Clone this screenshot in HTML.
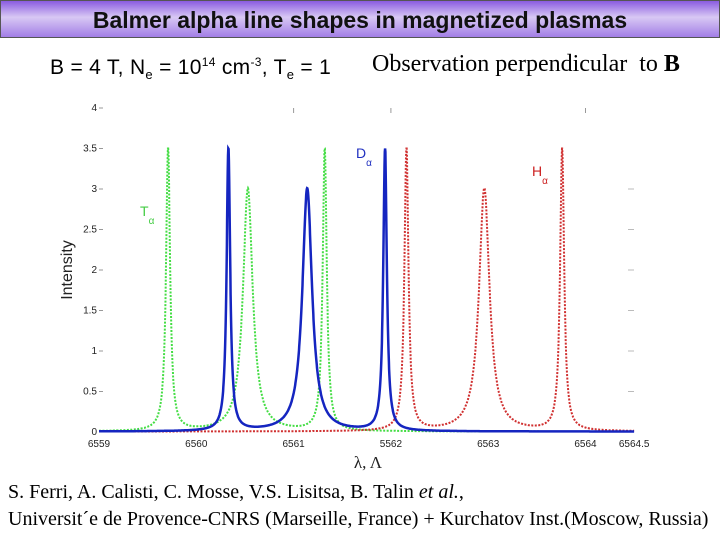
<!DOCTYPE html>
<html><head><meta charset="utf-8"><style>
body{margin:0;width:720px;height:540px;background:#fff;overflow:hidden;position:relative;font-family:"Liberation Sans",sans-serif}
#title{position:absolute;left:0;top:0;width:718px;height:36px;border:1px solid #555;background:linear-gradient(#8a5ce0,#d8c8f4 45%,#a27ee6);text-align:center;font-weight:bold;font-size:23px;line-height:38px;color:#111}
.t{position:absolute;white-space:nowrap}
</style></head><body>
<div id="title">Balmer alpha line shapes in magnetized plasmas</div>
<div class="t" style="left:50px;top:55px;font-size:21px;letter-spacing:0.3px">B = 4 T, N<sub style="font-size:13px">e</sub> = 10<sup style="font-size:12px">14</sup> cm<sup style="font-size:12px">-3</sup>, T<sub style="font-size:13px">e</sub> = 1</div>
<div class="t" style="left:372px;top:51px;font-size:24px;font-family:'Liberation Serif',serif">Observation perpendicular&nbsp; to <b>B</b></div>
<svg id="chart" width="720" height="540" style="position:absolute;left:0;top:0"></svg>
<div class="t" style="left:8px;top:481px;font-size:20px;font-family:'Liberation Serif',serif">S. Ferri, A. Calisti, C. Mosse, V.S. Lisitsa, B. Talin <i>et al.</i>,</div>
<div class="t" style="left:8px;top:508px;font-size:20px;font-family:'Liberation Serif',serif">Universit´e de Provence-CNRS (Marseille, France) + Kurchatov Inst.(Moscow, Russia)</div>
<script>
const xTicks=[6559,6560,6561,6562,6563,6564,6564.5];
const xTickLabels=["6559","6560","6561","5562","6563","6564","6564.5"];
const yTicks=[0,0.5,1,1.5,2,2.5,3,3.5,4];
const yTickLabels=["0","0.5","1","1.5","2","2.5","3","3.5","4"];
const tCenters=[6559.71,6560.53,6561.32];
const tHeights=[3.5,3.0,3.5];
const tWidths=[0.025,0.06,0.025];
const dCenters=[6560.33,6561.14,6561.94];
const dHeights=[3.5,3.0,3.5];
const dWidths=[0.022,0.06,0.022];
const hCenters=[6562.16,6562.96,6563.76];
const hHeights=[3.5,3.0,3.5];
const hWidths=[0.025,0.065,0.025];
const svg=document.getElementById('chart');const NS='http://www.w3.org/2000/svg';
const X=v=>99+(v-6559)*97.3, Y=v=>432-v*81;
function mk(t,a,p){const e=document.createElementNS(NS,t);for(const k in a)e.setAttribute(k,a[k]);(p||svg).appendChild(e);return e;}
xTicks.forEach((v,i)=>{const e=mk('text',{x:X(v),y:447,'font-size':10,'text-anchor':'middle',fill:'#222'});e.textContent=xTickLabels[i];

});
yTicks.forEach((v,i)=>{const e=mk('text',{x:97,y:Y(v)+3,'font-size':10,'text-anchor':'end',fill:'#222'});e.textContent=yTickLabels[i];


mk('line',{x1:99,x2:103,y1:Y(v),y2:Y(v),stroke:'#999'});
if(v>0&&v<4&&v!=3.5)mk('line',{x1:628,x2:634,y1:Y(v),y2:Y(v),stroke:'#bbb'});});
[6561,6562,6564].forEach(v=>mk('line',{x1:X(v),x2:X(v),y1:108,y2:113,stroke:'#999'}));
function draw(c,h,w,col,sw,dash,name){let d='';for(let x=6559;x<=6564.5;x+=0.003){let y=0.005;for(let i=0;i<c.length;i++){const u=(x-c[i])/w[i];y+=h[i]/(1+u*u);}y=Math.min(y,3.5);d+=(d?'L':'M')+X(x).toFixed(1)+','+Y(y).toFixed(1);}
const p=mk('path',{d:d,fill:'none',stroke:col,'stroke-width':sw,'stroke-dasharray':dash});

}
draw(tCenters,tHeights,tWidths,'#44dd44',2,'2,1.5','t-alpha-line');
draw(hCenters,hHeights,hWidths,'#d03030',2,'2,1.5','h-alpha-line');
draw(dCenters,dHeights,dWidths,'#1525c0',2.5,'','d-alpha-line');
function lab(x,y,txt,sub,col,name){const e=mk('text',{x:x,y:y,'font-size':14,fill:col});e.textContent=txt;const s=mk('tspan',{dy:8,'font-size':10},e);s.textContent=sub;

}
lab(140,216,'T','α','#44cc44','t-alpha-label');
lab(356,158,'D','α','#2030c0','d-alpha-label');
lab(532,176,'H','α','#cc2020','h-alpha-label');
const yl=mk('text',{x:72,y:270,'font-size':16,'text-anchor':'middle',transform:'rotate(-90 72 270)',fill:'#222'});yl.textContent='Intensity';


const xl=mk('text',{x:368,y:468,'font-size':17,'text-anchor':'middle','font-family':'Liberation Serif,serif',fill:'#222'});xl.textContent='λ, Λ';


</script>
</body></html>
